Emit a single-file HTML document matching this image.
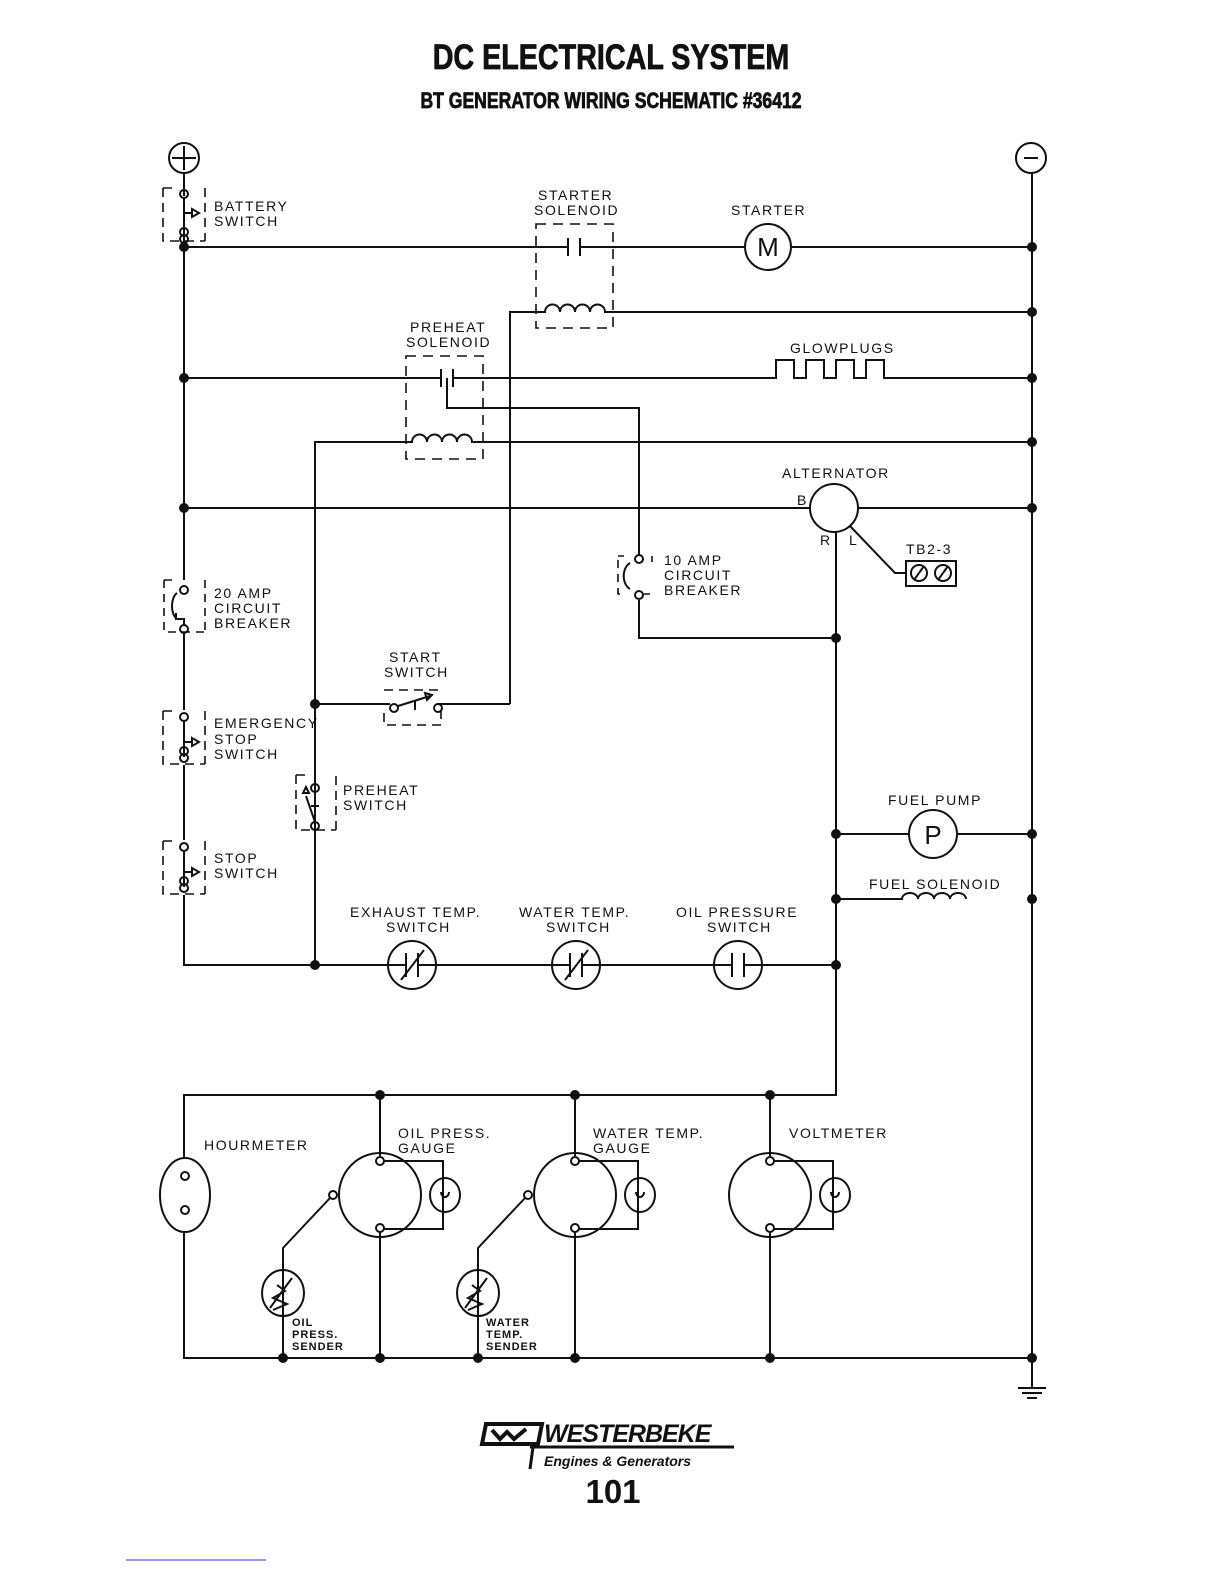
<!DOCTYPE html>
<html><head><meta charset="utf-8"><style>
html,body{margin:0;padding:0;background:#fff;width:1224px;height:1584px;overflow:hidden}
svg{display:block}
.t{font-family:"Liberation Sans",sans-serif;font-size:14px;letter-spacing:1.6px;fill:#111}
</style></head><body>
<svg width="1224" height="1584" viewBox="0 0 1224 1584" xmlns="http://www.w3.org/2000/svg">
<g font-family="Liberation Sans, sans-serif" font-weight="bold" fill="#111" text-anchor="middle" stroke="#111" stroke-width="0.8">
<text x="611" y="69" font-size="35" transform="translate(611 0) scale(0.82 1) translate(-611 0)">DC ELECTRICAL SYSTEM</text>
<text x="611" y="108" font-size="22" transform="translate(611 0) scale(0.8 1) translate(-611 0)">BT GENERATOR WIRING SCHEMATIC #36412</text>
</g>
<g stroke="#111" stroke-width="2" fill="none">
<circle cx="184" cy="158" r="15"/><path d="M172 158h24M184 146v24"/>
<circle cx="1031" cy="158" r="15"/><path d="M1024 158h14"/>
<path d="M184 173v23M184 236v344M184 632v78M184 765v75M184 895v70H836"/>
<path d="M1032 173v1185"/>
<path d="M184 247H568M580 247H745M791 247H1032"/>
<path d="M568 238v18M580 238v18"/>
<circle cx="768" cy="247" r="23"/>
<rect x="536" y="224" width="77" height="104" stroke-dasharray="10 7" stroke-width="1.6"/>
<path d="M510 704V312H545a7.5 7.5 0 0 1 15 0a7.5 7.5 0 0 1 15 0a7.5 7.5 0 0 1 15 0a7.5 7.5 0 0 1 15 0H1032"/>
<path d="M184 378H441M453 378H776v-18h18v18h12v-18h18v18h12v-18h18v18h12v-18h18v18H1032"/>
<path d="M441 369v18M453 369v18"/>
<rect x="406" y="356" width="77" height="103" stroke-dasharray="10 7" stroke-width="1.6"/>
<path d="M447 378v30H639v147M639 600v38H836"/>
<path d="M315 965V442H412a7.5 7.5 0 0 1 15 0a7.5 7.5 0 0 1 15 0a7.5 7.5 0 0 1 15 0a7.5 7.5 0 0 1 15 0H1032"/>
<path d="M184 508H810M858 508H1032"/>
<circle cx="834" cy="508" r="24"/>
<path d="M836 532V1095H184v62M184 1233v125H1032"/>
<path d="M850 526L895 573H907"/>
<rect x="906" y="561" width="50" height="25"/>
<circle cx="919" cy="573" r="8"/><circle cx="943" cy="573" r="8"/>
<path d="M914 580l10-14M938 580l10-14"/>
<path d="M630 563a10 14 0 0 0 0 26"/>
<path d="M618 556h6M652 556v6M618 560v34h8M644 594h6" stroke-dasharray="8 6" stroke-width="1.6"/>
<circle cx="639" cy="559" r="4"/><circle cx="639" cy="595" r="4"/>
<circle cx="184" cy="590" r="4"/><circle cx="184" cy="629" r="4"/>
<path d="M177 593a8 14 0 0 0 0 26M184 625v-6h-8v-6" />
<path d="M164 580h8M164 580v52h40M205 580v52" stroke-dasharray="8 6" stroke-width="1.6"/>
<circle cx="184" cy="194" r="4"/><path d="M184 198v40M184 213h8"/><path d="M192 209l7 4l-7 4z"/>
<circle cx="184" cy="232" r="4"/><circle cx="184" cy="239" r="4"/>
<path d="M163 188h10M163 188v53h42M205 188v53" stroke-dasharray="9 6" stroke-width="1.6"/>
<circle cx="184" cy="717" r="4"/><path d="M184 721v36M184 742h8"/><path d="M192 738l7 4l-7 4z"/>
<circle cx="184" cy="751" r="4"/><circle cx="184" cy="758" r="4"/>
<path d="M163 711h10M163 711v53h42M205 711v53" stroke-dasharray="9 6" stroke-width="1.6"/>
<circle cx="184" cy="847" r="4"/><path d="M184 851v36M184 872h8"/><path d="M192 868l7 4l-7 4z"/>
<circle cx="184" cy="881" r="4"/><circle cx="184" cy="888" r="4"/>
<path d="M163 841h10M163 841v53h42M205 841v53" stroke-dasharray="9 6" stroke-width="1.6"/>
<path d="M315 704H390M437 704H510"/>
<circle cx="394" cy="708" r="4"/><circle cx="438" cy="708" r="4"/>
<path d="M398 706L430 696M415 701v9"/><path d="M425 693l7 2l-5 5z"/>
<path d="M384 690h58M384 713v12h57v-22" stroke-dasharray="9 6" stroke-width="1.6"/>
<circle cx="315" cy="788" r="4"/><circle cx="315" cy="826" r="4"/>
<path d="M315 784v-80M315 822L306 796M311 806h8"/><path d="M303 793l3-6l3 6z"/>
<path d="M296 775h10M296 775v55h40M336 776v55" stroke-dasharray="9 6" stroke-width="1.6"/>
<path d="M836 834H909M957 834H1032"/>
<circle cx="933" cy="834" r="24"/>
<path d="M836 899H902a8 6 0 0 1 16 0a8 6 0 0 1 16 0a8 6 0 0 1 16 0a8 6 0 0 1 16 0"/>
<circle cx="412" cy="965" r="24" fill="#fff"/><path d="M388 965h18M418 965h18M406 953v24M418 953v24M401 980L424 950"/>
<circle cx="576" cy="965" r="24" fill="#fff"/><path d="M552 965h18M582 965h18M570 953v24M582 953v24M565 980L588 950"/>
<circle cx="738" cy="965" r="24" fill="#fff"/><path d="M714 965h18M744 965h18M732 953v24M744 953v24"/>
<ellipse cx="185" cy="1195" rx="25" ry="37"/>
<circle cx="185" cy="1176" r="4"/><circle cx="185" cy="1210" r="4"/>
</g>
<g stroke="#111" stroke-width="2" fill="none">
<g id="g1">
<path d="M380 1095v61M380 1232v126"/>
<ellipse cx="380" cy="1195" rx="41" ry="42"/>
<circle cx="380" cy="1161" r="4"/><circle cx="380" cy="1228" r="4"/>
<path d="M384 1161H443v68H384"/>
<ellipse cx="445" cy="1195" rx="15" ry="17"/><path d="M441 1192a4 5 0 1 0 8 0"/>
</g>
<g transform="translate(195 0)"><use href="#g1"/></g>
<g transform="translate(390 0)"><use href="#g1"/></g>
<circle cx="333" cy="1195" r="4"/><circle cx="528" cy="1195" r="4"/>
<path d="M330 1198L283 1248V1358M525 1198L478 1248V1358"/>
<ellipse cx="283" cy="1293" rx="21" ry="23"/><ellipse cx="478" cy="1293" rx="21" ry="23"/>
<path d="M270 1308l22-30M273 1310l14-6l-14-6l12-7l-8-6M465 1308l22-30M468 1310l14-6l-14-6l12-7l-8-6"/>
<path d="M1032 1358v30M1018 1388h28M1022 1393h20M1027 1398h10"/>
</g>
<g fill="#111">
<circle cx="184" cy="247" r="5"/><circle cx="1032" cy="247" r="5"/><circle cx="1032" cy="312" r="5"/>
<circle cx="184" cy="378" r="5"/><circle cx="1032" cy="378" r="5"/><circle cx="1032" cy="442" r="5"/>
<circle cx="184" cy="508" r="5"/><circle cx="1032" cy="508" r="5"/><circle cx="836" cy="638" r="5"/>
<circle cx="315" cy="704" r="5"/><circle cx="836" cy="834" r="5"/><circle cx="1032" cy="834" r="5"/>
<circle cx="836" cy="899" r="5"/><circle cx="1032" cy="899" r="5"/><circle cx="315" cy="965" r="5"/><circle cx="836" cy="965" r="5"/>
<circle cx="380" cy="1095" r="5"/><circle cx="575" cy="1095" r="5"/><circle cx="770" cy="1095" r="5"/>
<circle cx="283" cy="1358" r="5"/><circle cx="380" cy="1358" r="5"/><circle cx="478" cy="1358" r="5"/><circle cx="575" cy="1358" r="5"/><circle cx="770" cy="1358" r="5"/><circle cx="1032" cy="1358" r="5"/>
</g>
<g font-family="Liberation Sans, sans-serif" font-size="22" fill="#111" text-anchor="middle">
<text x="768" y="256" font-size="26">M</text><text x="933" y="844" font-size="26">P</text>
</g>
<g class="t">
<text x="214" y="211">BATTERY</text><text x="214" y="226">SWITCH</text>
<text x="538" y="200">STARTER</text><text x="534" y="215">SOLENOID</text>
<text x="731" y="215">STARTER</text>
<text x="410" y="332">PREHEAT</text><text x="406" y="347">SOLENOID</text>
<text x="790" y="353">GLOWPLUGS</text>
<text x="782" y="478">ALTERNATOR</text>
<text x="797" y="505">B</text><text x="820" y="545">R</text><text x="849" y="545">L</text>
<text x="906" y="554">TB2-3</text>
<text x="664" y="565">10 AMP</text><text x="664" y="580">CIRCUIT</text><text x="664" y="595">BREAKER</text>
<text x="214" y="598">20 AMP</text><text x="214" y="613">CIRCUIT</text><text x="214" y="628">BREAKER</text>
<text x="389" y="662">START</text><text x="384" y="677">SWITCH</text>
<text x="214" y="728">EMERGENCY</text><text x="214" y="744">STOP</text><text x="214" y="759">SWITCH</text>
<text x="343" y="795">PREHEAT</text><text x="343" y="810">SWITCH</text>
<text x="888" y="805">FUEL PUMP</text>
<text x="214" y="863">STOP</text><text x="214" y="878">SWITCH</text>
<text x="869" y="889">FUEL SOLENOID</text>
<text x="350" y="917">EXHAUST TEMP.</text><text x="386" y="932">SWITCH</text>
<text x="519" y="917">WATER TEMP.</text><text x="546" y="932">SWITCH</text>
<text x="676" y="917">OIL PRESSURE</text><text x="707" y="932">SWITCH</text>
<text x="204" y="1150">HOURMETER</text>
<text x="398" y="1138">OIL PRESS.</text><text x="398" y="1153">GAUGE</text>
<text x="593" y="1138">WATER TEMP.</text><text x="593" y="1153">GAUGE</text>
<text x="789" y="1138">VOLTMETER</text>
</g>
<g font-family="Liberation Sans, sans-serif" font-size="11" font-weight="bold" fill="#111" letter-spacing="1">
<text x="292" y="1326">OIL</text><text x="292" y="1338">PRESS.</text><text x="292" y="1350">SENDER</text>
<text x="486" y="1326">WATER</text><text x="486" y="1338">TEMP.</text><text x="486" y="1350">SENDER</text>
</g>
<g>
<path d="M486 1424H542l-4 20H482z" fill="none" stroke="#111" stroke-width="4"/>
<path d="M492 1430l8 9l7-7l7 7l12-10" fill="none" stroke="#111" stroke-width="4"/>
<path d="M533 1447l-3 22" stroke="#111" stroke-width="3"/>
<path d="M530 1447H734" stroke="#111" stroke-width="3"/>
<text x="544" y="1442" font-family="Liberation Sans, sans-serif" font-size="25" font-weight="bold" font-style="italic" fill="#111" letter-spacing="-1">WESTERBEKE</text>
<text x="544" y="1466" font-family="Liberation Sans, sans-serif" font-size="14" font-weight="bold" font-style="italic" fill="#111">Engines &amp; Generators</text>
<text x="613" y="1503" font-family="Liberation Sans, sans-serif" font-size="33" font-weight="bold" fill="#111" text-anchor="middle">101</text>
</g>
<path d="M126 1560H266" stroke="#33c" stroke-width="1"/>
</svg>
</body></html>
